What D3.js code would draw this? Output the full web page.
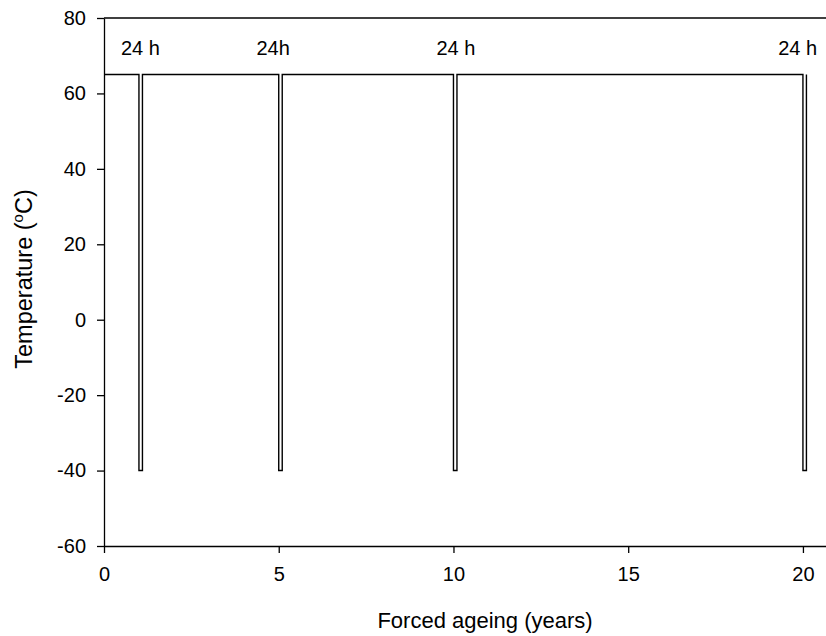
<!DOCTYPE html>
<html>
<head>
<meta charset="utf-8">
<title>Forced ageing</title>
<style>
  body { margin: 0; background: #fff; }
  svg text { font-family: Arial, "Liberation Sans", sans-serif; fill: #000; }
  .axis path, .axis line { stroke: #000; stroke-width: 1.3px; }
</style>
</head>
<body>
<svg width="826" height="636"></svg>
<script src="https://d3js.org/d3.v7.min.js"></script>
<script>

// temperature profile: 65 C holding with 24 h drops to -40 C
var years = [0, 1, 1, 1.1, 1.1, 5, 5, 5.1, 5.1, 10, 10, 10.1, 10.1, 20, 20, 20.1, 20.1];
var temps = [65, 65, -40, -40, 65, 65, -40, -40, 65, 65, -40, -40, 65, 65, -40, -40, 65];

var labelText = ["24 h", "24h", "24 h", "24 h"];
var labelYears = [1.04, 4.84, 10.07, 19.85];
var labelTemp = 70.2;

var xTicks = [0, 5, 10, 15, 20];
var yTicks = [-60, -40, -20, 0, 20, 40, 60, 80];

var svg = d3.select("svg"),
    width = +svg.attr("width"),
    height = +svg.attr("height");

var plotLeft = 104, plotTop = 18, plotRight = 826, plotBottom = 546;

var x = d3.scaleLinear().domain([0, 20.66]).range([plotLeft, plotRight]);
var y = d3.scaleLinear().domain([-60, 80]).range([plotBottom, plotTop]);

var plain = function(d) { return String(d); };

// x axis
var gx = svg.append("g")
    .attr("class", "axis")
    .attr("transform", "translate(0," + plotBottom + ")")
    .call(d3.axisBottom(x).tickValues(xTicks).tickFormat(plain)
        .tickSize(7).tickPadding(14).tickSizeOuter(0));
gx.selectAll("text")
    .attr("dy", "0.71em")
    .style("font-size", "20px");

// y axis
var gy = svg.append("g")
    .attr("class", "axis")
    .attr("transform", "translate(" + plotLeft + ",0)")
    .call(d3.axisLeft(y).tickValues(yTicks).tickFormat(plain)
        .tickSize(7).tickPadding(11).tickSizeOuter(0));
gy.selectAll("text")
    .style("font-size", "20px");

// top frame line
svg.append("line")
    .attr("x1", plotLeft).attr("x2", plotRight)
    .attr("y1", plotTop).attr("y2", plotTop)
    .attr("stroke", "#000")
    .attr("stroke-width", 1.3);

var pts = years.map(function(d, i) { return [d, temps[i]]; });

var line = d3.line()
    .x(function(d) { return x(d[0]); })
    .y(function(d) { return y(d[1]); });

svg.append("path")
    .datum(pts)
    .attr("fill", "none")
    .attr("stroke", "#000")
    .attr("stroke-width", 1.4)
    .attr("d", line);

svg.selectAll(".lbl")
    .data(labelText)
  .enter().append("text")
    .attr("class", "lbl")
    .attr("x", function(d, i) { return x(labelYears[i]); })
    .attr("y", y(labelTemp))
    .attr("text-anchor", "middle")
    .style("font-size", "20px")
    .text(function(d) { return d; });

// axis titles
svg.append("text")
    .attr("x", 485)
    .attr("y", 628)
    .attr("text-anchor", "middle")
    .style("font-size", "22px")
    .text("Forced ageing (years)");

var yt = svg.append("text")
    .attr("transform", "translate(32,279) rotate(-90)")
    .attr("text-anchor", "middle")
    .style("font-size", "23.5px");
yt.append("tspan").text("Temperature (");
yt.append("tspan").attr("dy", -9).style("font-size", "15px").text("o");
yt.append("tspan").attr("dy", 9).text("C)");

</script>
</body>
</html>
